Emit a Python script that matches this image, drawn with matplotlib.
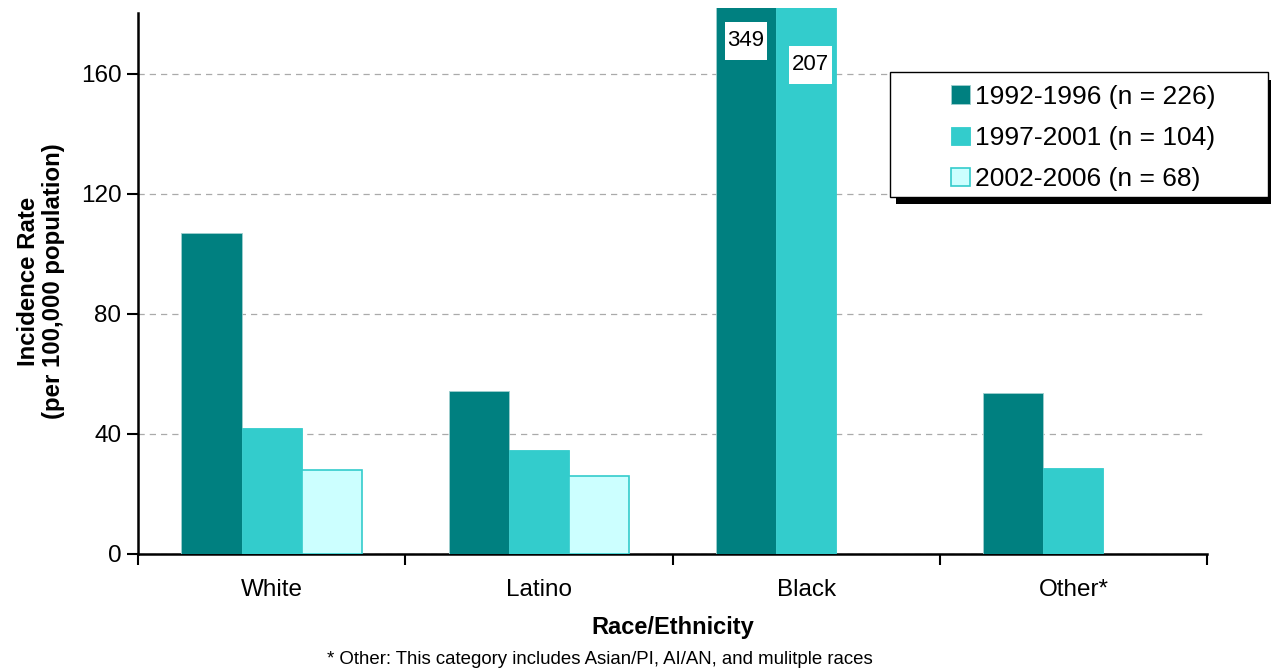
import numpy as np
import matplotlib.pyplot as plt
from matplotlib.patches import Rectangle

plt.rcParams['font.family'] = ['Liberation Sans', 'DejaVu Sans']

groups = ['White', 'Latino', 'Black', 'Other*']
periods = ['1992-1996 (n = 226)', '1997-2001 (n = 104)', '2002-2006 (n = 68)']
rate_92 = [107, 54.3, 349, 53.7]
rate_97 = [42, 34.7, 207, 28.7]
rate_02 = [28, 26, None, None]

fills = ['#008080', '#33CCCC', '#CCFFFF']
edges = ['#9FCFCF', '#33CCCC', '#33CCCC']

W, H = 1273, 671
fig = plt.figure(figsize=(W / 100, H / 100), dpi=100)
ax = fig.add_axes([138 / W, 1 - 554 / H, (1207 - 138) / W, (554 - 8) / H])

x = np.arange(len(groups))
bw = 0.225
for k, (vals, fc, ec, lab) in enumerate(zip([rate_92, rate_97, rate_02], fills, edges, periods)):
    xs = [xi + (k - 1) * bw for xi, v in zip(x, vals) if v is not None]
    hs = [v for v in vals if v is not None]
    ax.bar(xs, hs, width=bw, color=fc, edgecolor=ec, linewidth=1.2 if k == 2 else 0.6,
           label=lab, zorder=3)

# off-scale values for the Black group, printed in white boxes near the top
for cx, cy, v in [(x[2] - bw, 171, rate_92[2]), (x[2] + 0.015, 163, rate_97[2])]:
    ax.add_patch(Rectangle((cx - 0.08, cy - 6.4), 0.16, 12.8, facecolor='white',
                           edgecolor='none', zorder=4))
    ax.text(cx, cy, f'{v:g}', ha='center', va='center', fontsize=16, zorder=5)

ax.set_xlim(-0.5, 3.5)
ax.set_ylim(0, 182)
ax.set_yticks([0, 40, 80, 120, 160])
ax.yaxis.grid(True, color='#AAAAAA', linestyle=(0, (5, 4)), linewidth=0.9)
ax.set_axisbelow(True)

ax.set_xticks(x)
ax.set_xticklabels(groups)
ax.set_xticks(np.arange(-0.5, 4, 1), minor=True)
ax.tick_params(axis='x', which='major', length=0, labelsize=17.5, pad=18)
ax.tick_params(axis='x', which='minor', length=8, width=1.5, direction='out')
ax.tick_params(axis='y', labelsize=17.5, length=8, width=1.5, direction='out', pad=4)

for s in ['top', 'right']:
    ax.spines[s].set_visible(False)
ax.spines['left'].set_linewidth(1.8)
ax.spines['bottom'].set_linewidth(1.8)
ax.spines['left'].set_bounds(0, 180.3)

ax.set_xlabel('Race/Ethnicity', fontsize=17, fontweight='bold', labelpad=11)
ax.set_ylabel('Incidence Rate\n(per 100,000 population)', fontsize=17.3,
              fontweight='bold', labelpad=11, linespacing=1.15)

# legend frame with a solid drop shadow
fig.patches.append(Rectangle((896 / W, 1 - 204 / H), (1271 - 896) / W, (204 - 80) / H,
                             transform=fig.transFigure, facecolor='black',
                             edgecolor='none', zorder=10))
fig.patches.append(Rectangle((890 / W, 1 - 197 / H), (1268 - 890) / W, (197 - 72) / H,
                             transform=fig.transFigure, facecolor='white',
                             edgecolor='black', linewidth=1, zorder=11))
leg = fig.legend(loc='upper right', bbox_to_anchor=(1218 / W, 1 - 82 / H),
                 frameon=False, fontsize=19, handlelength=0.7, handleheight=0.7,
                 handletextpad=0.2, labelspacing=0.66, borderpad=0.1, borderaxespad=0)
leg.set_zorder(12)

fig.text(600 / W, 1 - 659 / H,
         '* Other: This category includes Asian/PI, AI/AN, and mulitple races',
         ha='center', va='center', fontsize=13.4)

fig.savefig('out.png', dpi=100)
